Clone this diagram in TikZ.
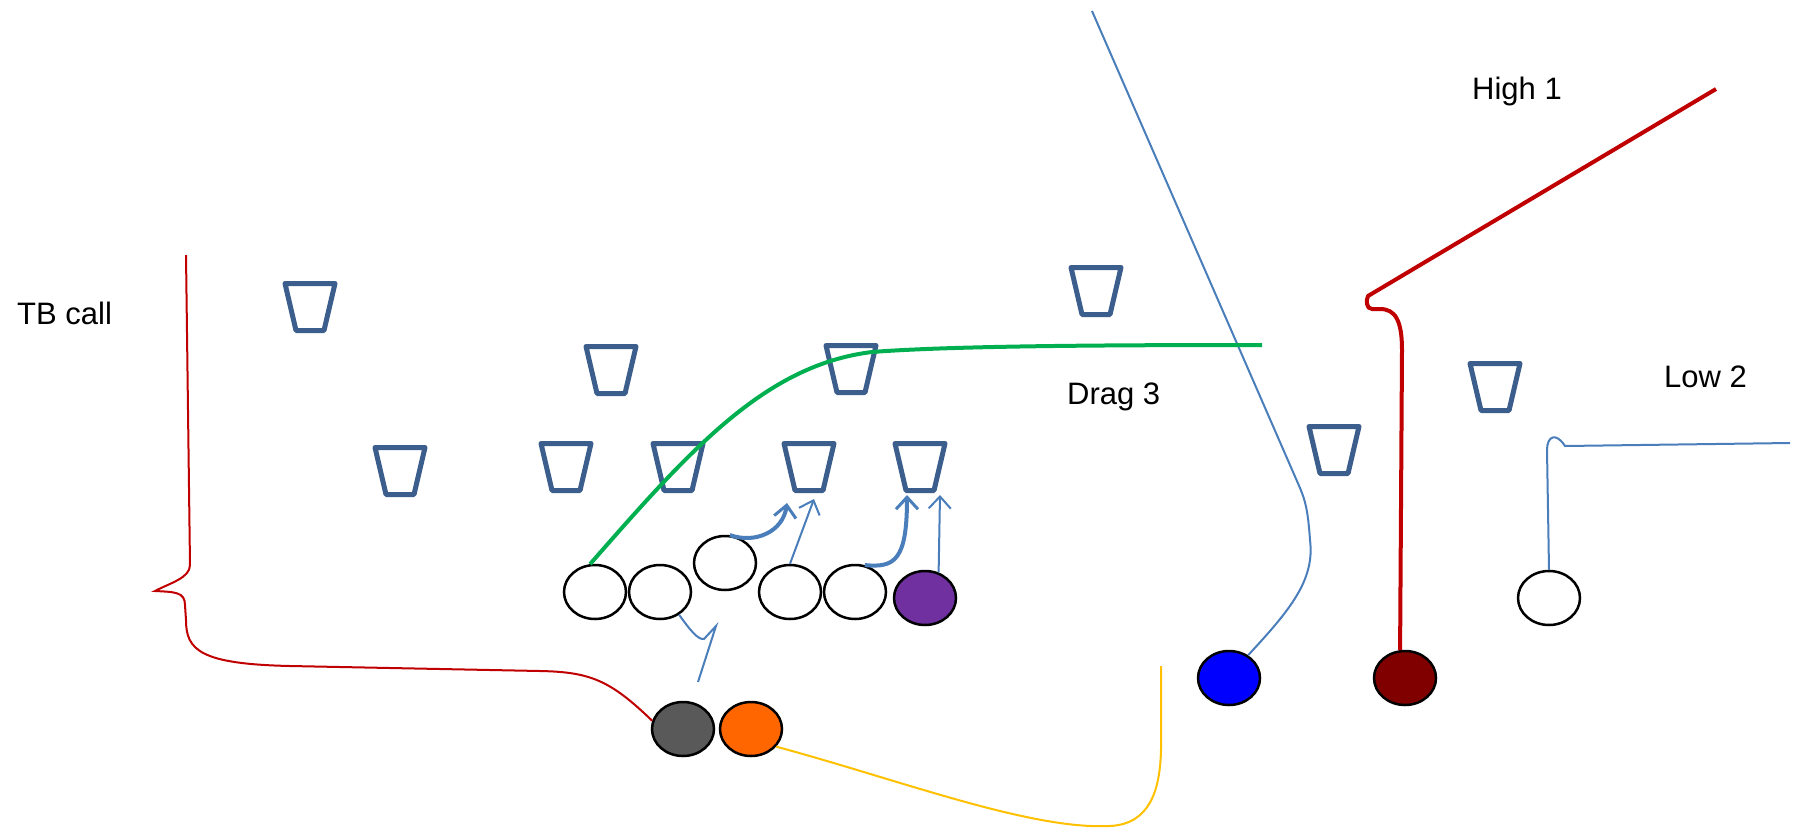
\documentclass[tikz,border=0pt]{standalone}
\usepackage{fontspec}
\setmainfont{Liberation Sans}
\usepackage{xcolor}
\usetikzlibrary{shapes.geometric,arrows.meta}

\definecolor{dfblue}{HTML}{3B5E8C}
\definecolor{rtblue}{HTML}{4A7EBB}
\definecolor{rtred}{HTML}{C00000}
\definecolor{rtgreen}{HTML}{00B050}
\definecolor{rtgold}{HTML}{FFC000}
\definecolor{qbgrey}{HTML}{595959}
\definecolor{rbgorange}{HTML}{FF6600}
\definecolor{tepurple}{HTML}{7030A0}
\definecolor{wrdark}{HTML}{800000}

\tikzset{
  defender/.style={draw=dfblue, line width=5pt, line join=round},
  player/.style={draw=black, line width=2.5pt, ellipse, minimum width=62pt,
    minimum height=54pt, inner sep=0pt},
  lbl/.style={font=\fontsize{31}{36}\selectfont, inner sep=0pt, anchor=base west},
  thinroute/.style={draw=rtblue, line width=2pt},
  arrowroute/.style={thinroute, -{Straight Barb[length=12pt,width=22pt,line width=2pt]}},
  thickarrow/.style={draw=rtblue, line width=4pt, -{Straight Barb[length=12pt,width=22pt,line width=3pt]}},
}

\begin{document}
\begin{tikzpicture}[x=1pt, y=-1pt]
\useasboundingbox (0,0) rectangle (1799,833);

% defense
\foreach \n/\x/\y in {d1/310/307, d2/400/471, d3/611/370, d4/566/467, d5/678/467,
                      d6/851/369, d7/1096/291, d8/809/467, d9/920/467,
                      d10/1334/450, d11/1495/387}{
    \coordinate (\n) at (\x,\y);
    \draw[defender, shift={(\n)}] (-25,-23.5) -- (25,-23.5) -- (14,23.5) -- (-14,23.5) -- cycle;
}

% offense
\node[player] (o1) at (595,592) {};
\node[player] (o2) at (660,592) {};
\node[player] (o3) at (725,563) {};
\node[player] (o4) at (790,592) {};
\node[player] (o5) at (855,592) {};
\node[player, fill=tepurple] (te) at (925,598) {};
\node[player, fill=qbgrey] (qb) at (683,729) {};
\node[player, fill=rbgorange] (rb) at (751,729) {};
\node[player, fill=blue] (wb) at (1229,678) {};
\node[player, fill=wrdark] (wr) at (1405,678) {};
\node[player] (wl) at (1549,598) {};

% labels
\node[lbl] (tbcall) at (17,324) {TB call};
\node[lbl] (high) at (1472,99) {High 1};
\node[lbl] (drag) at (1067,404) {Drag 3};
\node[lbl] (low) at (1664,387) {Low 2};

% free ends
\coordinate (tbend) at (186,255);
\coordinate (highend) at (1716,89);
\coordinate (dragend) at (1262,345);
\coordinate (lowend) at (1790,443);
\coordinate (deepend) at (1092,11);
\coordinate (wheelend) at (1161,666);
\coordinate (chipend) at (698,682);

% routes
\draw[rtred, line width=2pt] (qb.165) .. controls (610,680) and (590,672) .. (540,671)
    -- (290,666) .. controls (200,664) and (186,650) .. (186,620) -- (185,605)
    .. controls (185,592) and (175,592) .. (155,591)
    .. controls (170,583) and (190,578) .. (190,565) -- (tbend);
\draw[rtgold, line width=2pt] (rb.-35) .. controls (900,780) and (1030,830) .. (1110,826)
    .. controls (1150,824) and (1160,790) .. (1161,750) -- (wheelend);
\draw[thinroute] (wb.50) .. controls (1290,610) and (1315,580) .. (1310,540)
    .. controls (1308,510) and (1305,500) .. (1300,488) -- (deepend);
\draw[rtred, line width=4pt, line join=round] (wr.100) -- (1402,350)
    .. controls (1402,320) and (1395,309) .. (1380,309) -- (1372,309)
    .. controls (1366,309) and (1366,300) .. (1368,296) -- (highend);
\draw[thinroute] (wl.north) -- (1547,450) .. controls (1547,436) and (1556,432) .. (1565,446)
    -- (lowend);
\draw[rtgreen, line width=4pt] (o1.100) .. controls (690,450) and (765,365) .. (872,352)
    .. controls (950,346) and (1100,345) .. (dragend);

% blocking
\draw[thinroute] (o2.-50) .. controls (690,630) and (698,640) .. (704,639) -- (716,626) -- (chipend);
\draw[thickarrow] (o3.80) .. controls (755,544) and (783,532) .. (787,503);
\draw[arrowroute] (o4.north) -- (814,499);
\draw[thickarrow] (o5.70) .. controls (895,568) and (907,560) .. (907,495);
\draw[arrowroute] (te.62) -- (940,495);
\end{tikzpicture}
\end{document}
